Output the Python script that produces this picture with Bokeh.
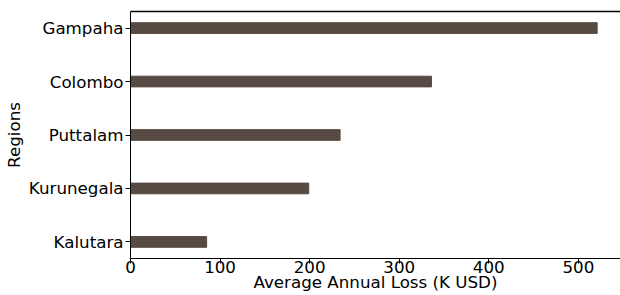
from bokeh.plotting import figure
from bokeh.models import Range1d, FixedTicker, LinearAxis
from bokeh.embed import file_html
from bokeh.resources import INLINE

regions = ["Kalutara", "Kurunegala", "Puttalam", "Colombo", "Gampaha"]
losses = [85, 199, 234, 336, 521]
x_ticks = [0, 100, 200, 300, 400, 500]

positions = list(range(len(regions)))
y_lo, y_hi = -0.31, len(regions) - 1 + 0.31
x_hi = max(losses) * 1.05

p = figure(width=620, height=295, output_backend="svg", toolbar_location=None,
           x_range=Range1d(0, x_hi),
           y_range=Range1d(y_lo, y_hi),
           min_border_left=130, min_border_right=0, min_border_top=11, min_border_bottom=37)

p.hbar(y=positions, right=losses, left=0, height=0.2, color="#574a42")

FONT = "DejaVu Sans"
FS = "16.7px"
p.xaxis.ticker = FixedTicker(ticks=x_ticks)
p.yaxis.ticker = FixedTicker(ticks=positions)
p.yaxis.major_label_overrides = {i: r for i, r in enumerate(regions)}
p.xaxis.axis_label = "Average Annual Loss (K USD)"
p.yaxis.axis_label = "Regions"
for ax in (p.xaxis[0], p.yaxis[0]):
    ax.major_label_text_font = FONT
    ax.major_label_text_font_size = FS
    ax.major_label_text_color = "black"
    ax.axis_label_text_font = FONT
    ax.axis_label_text_font_size = FS
    ax.axis_label_text_font_style = "normal"
    ax.axis_label_text_color = "black"
    ax.axis_line_color = "black"
    ax.major_tick_line_color = "black"
    ax.major_tick_out = 5
    ax.major_tick_in = 0
    ax.minor_tick_line_color = None
    ax.major_label_standoff = 2
    ax.axis_label_standoff = 2
p.xaxis.major_label_standoff = -3
p.xaxis.axis_label_standoff = -4

# top spine only (the right spine of the original falls outside the picture)
top = LinearAxis(ticker=FixedTicker(ticks=[]), major_tick_line_color=None,
                 minor_tick_line_color=None, major_label_text_font_size="0px",
                 axis_line_color="black", axis_line_width=1.3)
p.add_layout(top, "above")

p.grid.visible = False
p.outline_line_color = None

open("out.html", "w").write(file_html(p, INLINE))
